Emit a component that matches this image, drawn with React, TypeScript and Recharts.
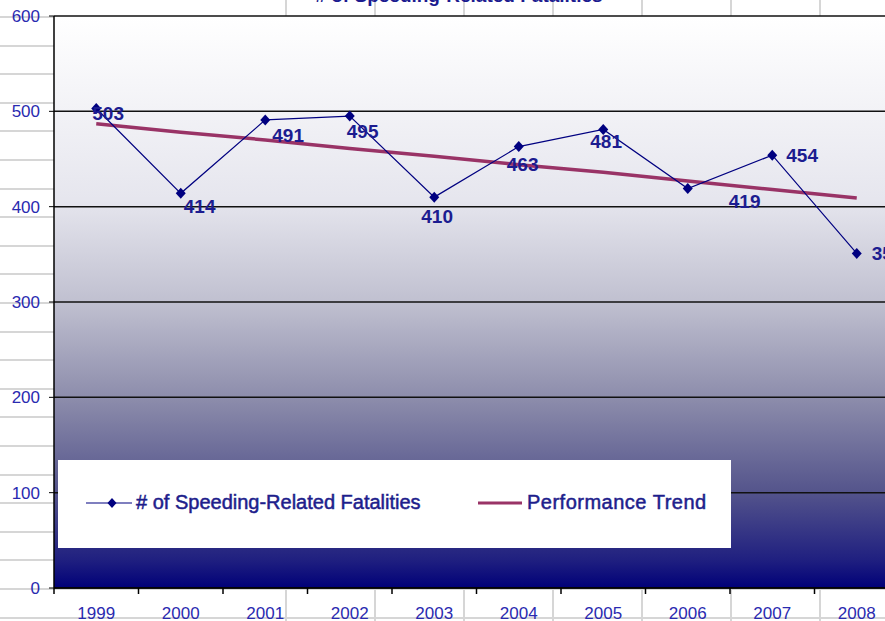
import { LineChart, Line, XAxis, YAxis, CartesianGrid, LabelList } from 'recharts';

const years = ['1999', '2000', '2001', '2002', '2003', '2004', '2005', '2006', '2007', '2008'];
const fatalities = [503, 414, 491, 495, 410, 463, 481, 419, 454, 351];
const trend = [487, 478, 470, 461, 453, 444, 436, 427, 418, 409];
const yTicks = [0, 100, 200, 300, 400, 500, 600];

// manual label nudges (dx, dy) like the original sheet
const labelNudge = [
  [-4, 5], [3, 13], [7, 15], [-3, 15], [-13, 19],
  [-12, 18], [-13, 12], [41, 13], [14, 0], [15, 0],
];

const rows = years.map((year, i) => ({ idx: i, year, fatalities: fatalities[i], trend: trend[i] }));

const CHART_W = 920;
const CHART_H = 621;
const Y_W = 54;
const RIGHT = 21;
const STEP = (CHART_W - RIGHT - Y_W) / years.length;

const NAVY = '#000080';
const PLUM = '#993366';
const FONT = '"Liberation Sans", Arial, sans-serif';

const Diamond = ({ cx, cy }: any) => (
  <polygon points={`${cx},${cy - 5.5} ${cx + 5},${cy} ${cx},${cy + 5.5} ${cx - 5},${cy}`} fill={NAVY} />
);

const YearTick = ({ x, y, payload }: any) => (
  <g>
    <line x1={x - STEP / 2} y1={y} x2={x - STEP / 2} y2={y + 6} stroke="#000" strokeWidth={1.5} />
    <text x={x} y={y + 31} textAnchor="middle" fill="#2a2ab0" fontSize={17} fontFamily={FONT}>
      {years[payload.value]}
    </text>
  </g>
);

const ValueLabel = ({ x, y, value, index }: any) => {
  const [dx, dy] = labelNudge[index] || [0, 0];
  return (
    <text x={x + dx} y={y + dy} dy="0.36em" fill="#1c1c90" fontSize={19} fontWeight="bold" fontFamily={FONT}>
      {value}
    </text>
  );
};

const LegendBox = () => (
  <div style={{ position: 'absolute', left: 58, top: 460, width: 673, height: 88, background: '#fff', fontFamily: FONT, fontSize: 20, color: '#1e1e8c', WebkitTextStroke: '0.5px #1e1e8c' }}>
    <svg width={673} height={88} style={{ position: 'absolute', left: 0, top: 0 }}>
      <line x1={28} y1={43} x2={74} y2={43} stroke={NAVY} strokeWidth={1.2} />
      <polygon points="54,38 58.5,43 54,48 49.5,43" fill={NAVY} />
      <line x1={420} y1={43} x2={464} y2={43} stroke={PLUM} strokeWidth={3} />
    </svg>
    <span style={{ position: 'absolute', left: 78, top: 31, whiteSpace: 'nowrap' }}># of Speeding-Related Fatalities</span>
    <span style={{ position: 'absolute', left: 469, top: 31, whiteSpace: 'nowrap', letterSpacing: 0.5 }}>Performance Trend</span>
  </div>
);

const SheetGrid = () => {
  const rowLines = [];
  for (let k = 0; k < 23; k++) rowLines.push(17 + k * 28.6);
  const colLines = [];
  for (let k = 0; k < 7; k++) colLines.push(286 + k * 89);
  return (
    <svg width={885} height={621} style={{ position: 'absolute', left: 0, top: 0 }}>
      {rowLines.map((y) => (
        <line key={'r' + y} x1={0} y1={Math.round(y)} x2={885} y2={Math.round(y)} stroke="#d6d6d6" strokeWidth={2} />
      ))}
      {colLines.map((x) => (
        <line key={'c' + x} x1={x} y1={0} x2={x} y2={621} stroke="#d6d6d6" strokeWidth={2} />
      ))}
    </svg>
  );
};

export default function App() {
  return (
    <div style={{ position: 'fixed', left: 0, top: 0, width: 885, height: 621, overflow: 'hidden', background: '#fff' }}>
      <SheetGrid />
      <div style={{ position: 'absolute', left: 0, top: -15, width: 918, textAlign: 'center', fontFamily: FONT, fontWeight: 'bold', fontSize: 19, color: '#1c1c90' }}>
        # of Speeding-Related Fatalities
      </div>
      <div style={{ position: 'absolute', left: 0, top: 0 }}>
        <LineChart width={CHART_W} height={CHART_H} data={rows} margin={{ top: 16, right: RIGHT, bottom: 0, left: 0 }}>
          <defs>
            <linearGradient id="plotFill" x1="0" y1="0" x2="0" y2="1">
              <stop offset="0" stopColor="#ffffff" />
              <stop offset="0.32" stopColor="#e6e6ee" />
              <stop offset="0.5" stopColor="#c0c0d0" />
              <stop offset="0.67" stopColor="#8c8cab" />
              <stop offset="0.83" stopColor="#55558c" />
              <stop offset="0.95" stopColor="#202080" />
              <stop offset="1" stopColor="#000078" />
            </linearGradient>
          </defs>
          <CartesianGrid vertical={false} stroke="#111" strokeWidth={1.5} fill="url(#plotFill)" fillOpacity={1} />
          <XAxis
            dataKey="idx"
            type="number"
            domain={[-0.5, 9.5]}
            ticks={[0, 1, 2, 3, 4, 5, 6, 7, 8, 9]}
            height={33}
            tickSize={0}
            tickMargin={0}
            tick={<YearTick />}
            axisLine={{ stroke: '#000', strokeWidth: 1.5 }}
            tickLine={false}
            interval={0}
          />
          <YAxis
            type="number"
            domain={[0, 600]}
            ticks={yTicks}
            width={Y_W}
            tickSize={5}
            tickMargin={9}
            tick={{ fill: '#2a2ab0', fontSize: 17, fontFamily: FONT }}
            axisLine={{ stroke: '#000', strokeWidth: 1.5 }}
            tickLine={{ stroke: '#000' }}
          />
          <Line type="linear" dataKey="trend" stroke={PLUM} strokeWidth={3.5} dot={false} isAnimationActive={false} />
          <Line type="linear" dataKey="fatalities" stroke={NAVY} strokeWidth={1.2} dot={<Diamond />} activeDot={false} isAnimationActive={false}>
            <LabelList dataKey="fatalities" content={<ValueLabel />} />
          </Line>
        </LineChart>
      </div>
      <LegendBox />
    </div>
  );
}
